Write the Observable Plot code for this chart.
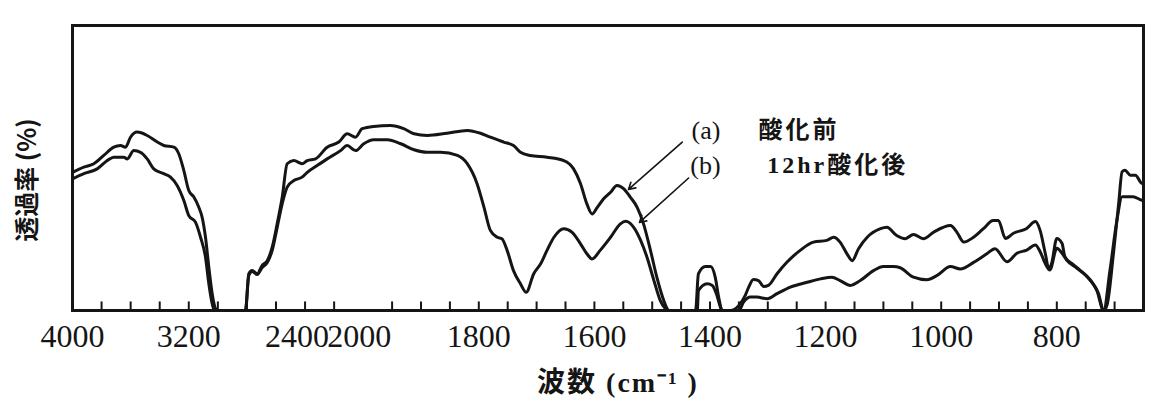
<!DOCTYPE html>
<html><head><meta charset="utf-8">
<script src="https://cdn.jsdelivr.net/npm/d3@7"></script>
<script src="https://cdn.jsdelivr.net/npm/@observablehq/plot@0.6"></script>
<style>body{margin:0;background:#fff}</style>
</head><body><div id="chart"></div>
<script>
// Wavenumber (cm-1) and transmittance (%)
const waveA = [4000,3922,3853,3785,3716,3670,3635,3601,3555,3486,3417,3372,3303,3269,3234,3200,3165,3131,3108,3085,3062,3039,3016,3004,2810,2787,2764,2729,2695,2660,2626,2592,2557,2523,2477,2420,2385,2328,2248,2168,2110,2053,2007,1982,1953,1930,1912,1889,1855,1820,1797,1780,1757,1740,1728,1711,1682,1653,1636,1624,1613,1604,1595,1584,1572,1561,1549,1538,1526,1515,1503,1492,1480,1474,1472,1425,1420,1408,1399,1391,1385,1379,1365,1350,1339,1333,1325,1316,1307,1299,1284,1267,1244,1221,1198,1186,1175,1163,1154,1143,1128,1105,1094,1077,1062,1048,1031,1013,984,973,961,944,927,910,901,889,875,852,837,829,820,814,809,800,791,786,774,760,742,728,719,713,702,693,687,682,673,664,653,650];
const transA = [48.5,50.3,51.5,54.4,57.3,57.9,57.3,60.8,62.6,61.4,59.1,57.9,57.3,55.0,49.1,42.1,39.8,36.2,32.7,25.7,15.2,5.9,0.6,0,0,12.9,14.0,12.9,15.8,17.5,22.2,30.4,39.8,51.5,52.6,51.5,52.6,53.2,57.3,59.1,62.0,60.8,63.8,64.6,64.9,63.8,62.0,61.4,62.2,63.2,62.2,60.8,59.1,57.9,55.5,54.4,53.8,52.6,49.7,44.5,37.4,33.9,36.2,39.2,41.5,43.9,42.7,39.8,36.2,30.4,21.1,11.7,3.5,0.6,0,0,12.9,15.4,15.4,11.7,4.7,0,0,1.8,5.3,8.2,10.9,10.5,8.4,8.8,12.9,16.9,21.1,24.0,24.6,25.7,24.0,19.9,17.5,21.7,25.7,28.7,29.2,26.3,25.2,26.7,25.2,27.5,29.8,27.5,24.0,25.7,28.7,31.6,31.6,25.3,27.1,28.8,31.2,28.2,20.1,14.8,16.5,25.3,23.6,18.9,16.5,14.2,10.7,6.0,0,2,20,37.5,48.7,49.2,47.5,47.5,44.6,44.5];
const waveB = [4000,3922,3830,3761,3716,3647,3624,3578,3532,3486,3441,3372,3326,3280,3234,3200,3154,3119,3085,3062,3039,3023,2810,2787,2764,2729,2695,2660,2626,2592,2557,2523,2477,2420,2385,2316,2248,2156,2110,2053,1999,1982,1958,1935,1912,1889,1866,1837,1820,1803,1791,1780,1768,1760,1751,1740,1728,1718,1705,1693,1682,1670,1653,1639,1624,1613,1604,1590,1572,1555,1546,1532,1520,1509,1497,1486,1477,1474,1422,1420,1405,1396,1388,1382,1379,1350,1342,1330,1319,1301,1284,1261,1232,1209,1189,1175,1157,1140,1117,1100,1083,1071,1048,1025,1007,984,967,944,921,907,886,869,852,837,829,820,812,800,791,783,765,748,731,719,708,696,687,668,653,650];
const transB = [46.2,48.0,49.7,52.6,53.8,53.8,53.2,56.1,55.5,53.2,49.7,48.0,46.8,43.9,38.6,33.3,31.0,25.7,18.7,9.4,2.4,0,0,12.3,13.7,12.6,15.1,16.8,21.1,29.1,37.5,43.3,45.6,46.8,48.5,50.9,53.2,56.1,57.9,56.1,58.5,59.9,59.9,58.5,56.4,55.5,55.5,54.4,51.5,44.5,36.2,28.1,25.7,25.2,21.1,14.0,9.4,6.4,12.9,16.4,21.1,25.7,28.7,27.5,23.4,19.9,18.1,21.1,25.7,30.4,31.3,29.2,24.6,18.7,10.5,3.5,0.6,0,0,7.0,9.4,8.8,5.3,1.2,0,0,2.9,4.7,4.7,4.1,5.9,8.2,9.9,11.1,11.7,10.5,8.8,10.5,14.0,15.4,15.4,15.0,11.7,10.8,12.3,15.4,14.6,16.9,19.9,21.7,17.1,20.1,21.2,23.0,20.7,16.5,14.2,21.8,20.1,17.7,14.8,11.9,7.2,0,14.1,31.7,39.9,39.9,38.7,38.6];

const minorTicks = [3800,3600,3400,3200,3000,2800,2600,2400,2200,1950,1900,1850,1800,1750,1700,1650,1600,1550,1500,1450,1400,1350,1300,1250,1200,1150,1100,1050,1000,950,900,850,800,750,700];
const tickLabels = [4000,3200,2400,2000,1800,1600,1400,1200,1000,800];
const seriesTags = ["(a)","(b)"];
const seriesNames = ["酸化前","12hr酸化後"];
const xTitle = "波数 (cm⁻¹ )";
const yTitle = "透過率 (%)";

const rowsA = waveA.map((w,i)=>({w, t:transA[i]}));
const rowsB = waveB.map((w,i)=>({w, t:transB[i]}));
const ink = "#151515";
const serif = "Liberation Serif, Noto Sans CJK JP, serif";

const chart = Plot.plot({
  width:1163, height:408,
  marginLeft:72, marginRight:20, marginTop:25, marginBottom:98,
  x:{type:"linear", domain:[4000,2000,650], range:[72,362.7,1143], axis:null},
  y:{domain:[0,100], axis:null},
  style:{background:"white", fontFamily:serif, color:ink},
  marks:[
    Plot.line(rowsA, {x:"w", y:"t", stroke:ink, strokeWidth:3, curve:"monotone-x", strokeLinejoin:"round", clip:true}),
    Plot.line(rowsB, {x:"w", y:"t", stroke:ink, strokeWidth:3, curve:"monotone-x", strokeLinejoin:"round", clip:true}),
    Plot.ruleX(minorTicks, {x:d=>d, y1:0, y2:3, stroke:ink, strokeWidth:2}),
    Plot.frame({stroke:ink, strokeWidth:3}),
    Plot.text(tickLabels.filter(d=>d!==2400 && d!==2000), {x:d=>d, y:0, dy:26, text:d=>String(d), fontSize:32, fill:ink}),
    Plot.text(tickLabels.filter(d=>d===2400), {x:d=>d, y:0, dy:26, dx:-8, text:d=>String(d), fontSize:32, fill:ink}),
    Plot.text(tickLabels.filter(d=>d===2000), {x:d=>d, y:0, dy:26, dx:-4, text:d=>String(d), fontSize:32, fill:ink}),
    Plot.text([xTitle], {frameAnchor:"bottom", lineAnchor:"middle", textAnchor:"middle", dy:73, dx:10, text:d=>d, fontSize:28, fontWeight:"bold", fill:ink, style:"letter-spacing:2px"}),
    Plot.text([yTitle], {frameAnchor:"left", textAnchor:"middle", lineAnchor:"middle", dx:-45, dy:12, rotate:-90, text:d=>d, fontSize:25, fontWeight:"bold", fontFamily:"Noto Sans CJK JP", fill:ink}),
    Plot.text([seriesTags[0]], {x:1432, y:63.2, text:d=>d, textAnchor:"start", fontSize:26, fill:ink}),
    Plot.text([seriesTags[1]], {x:1434, y:50.9, text:d=>d, textAnchor:"start", fontSize:26, fill:ink}),
    Plot.text([seriesNames[0]], {x:1316, y:63.2, text:d=>d, textAnchor:"start", fontSize:24, fontWeight:"bold", fill:ink}),
    Plot.text([seriesNames[1]], {x:1301, y:50.9, text:d=>d, textAnchor:"start", fontSize:24, fontWeight:"bold", fill:ink}),
    Plot.arrow([{x1:1448,y1:59.1,x2:1541,y2:42.5},{x1:1437,y1:46.5,x2:1522,y2:30.9}], {x1:"x1", y1:"y1", x2:"x2", y2:"y2", stroke:ink, strokeWidth:1.6, headLength:7})
  ]
});
chart.querySelectorAll("text").forEach(t=>{ if (t.textContent.includes("酸")) t.style.letterSpacing = "3px"; if (t.textContent.includes("波数")) t.style.letterSpacing = "2px"; });
document.getElementById("chart").appendChild(chart);
</script>
</body></html>
